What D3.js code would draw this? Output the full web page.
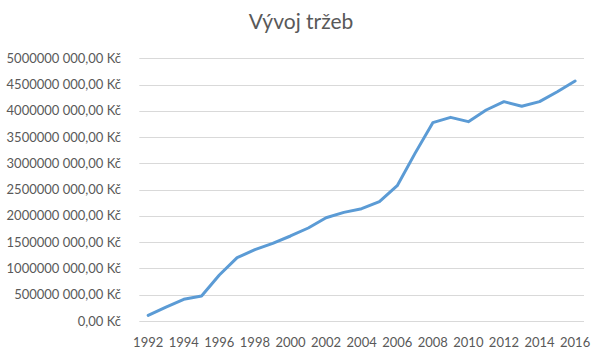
<!DOCTYPE html>
<html><head><meta charset="utf-8">
<script src="https://cdn.jsdelivr.net/npm/d3@7"></script>
<style>body{margin:0;background:#fff}text{font-family:Lato,"Open Sans",sans-serif}</style>
</head><body><svg id="c" width="600" height="356"></svg>
<script>
const years = d3.range(1992, 2017);
const revenue = [0.108e9,0.266e9,0.413e9,0.476e9,0.876e9,1.205e9,1.357e9,1.478e9,1.618e9,1.77e9,1.966e9,2.068e9,2.138e9,2.271e9,2.575e9,3.19e9,3.775e9,3.876e9,3.794e9,4.016e9,4.175e9,4.086e9,4.175e9,4.364e9,4.568e9];
const yTicks = [0,0.5e9,1e9,1.5e9,2e9,2.5e9,3e9,3.5e9,4e9,4.5e9,5e9];
const title = "Vývoj tržeb";

const svg = d3.select("#c");
const x = d3.scaleBand().domain(years).range([139.3, 584]);
const y = d3.scaleLinear().domain([0, 5e9]).range([321, 58.3]);
const fmt = v => v === 0 ? "0,00 Kč" : (Math.floor(v/1000)) + " " + String(v%1000).padStart(3,"0") + ",00 Kč";

svg.append("g").selectAll("line").data(yTicks).join("line")
  .attr("x1", 139.3).attr("x2", 584).attr("y1", d=>Math.round(y(d))+0.5).attr("y2", d=>Math.round(y(d))+0.5)
  .attr("stroke", "#d9d9d9").attr("stroke-width", 1);

svg.append("g").selectAll("text").data(yTicks).join("text")
  .attr("x", 121).attr("y", d=>y(d)).attr("dy", "0.35em").attr("text-anchor","end")
  .attr("fill","#595959").attr("font-size", 13).text(fmt);

svg.append("g").selectAll("text").data(years.filter((d,i)=>i%2===0)).join("text")
  .attr("x", d=>x(d)+x.bandwidth()/2).attr("y", 342).attr("dy","0.35em").attr("text-anchor","middle")
  .attr("fill","#595959").attr("font-size", 13).text(d=>d);

const line = d3.line().x((d,i)=>x(years[i])+x.bandwidth()/2).y(d=>y(d));
svg.append("path").datum(revenue).attr("d", line).attr("fill","none")
  .attr("stroke","#5b9bd5").attr("stroke-width",3).attr("stroke-linejoin","round").attr("stroke-linecap","round");

svg.append("text").attr("x", 301).attr("y", 29).attr("text-anchor","middle")
  .attr("fill","#595959").attr("font-size", 21).text(title);
</script></body></html>
